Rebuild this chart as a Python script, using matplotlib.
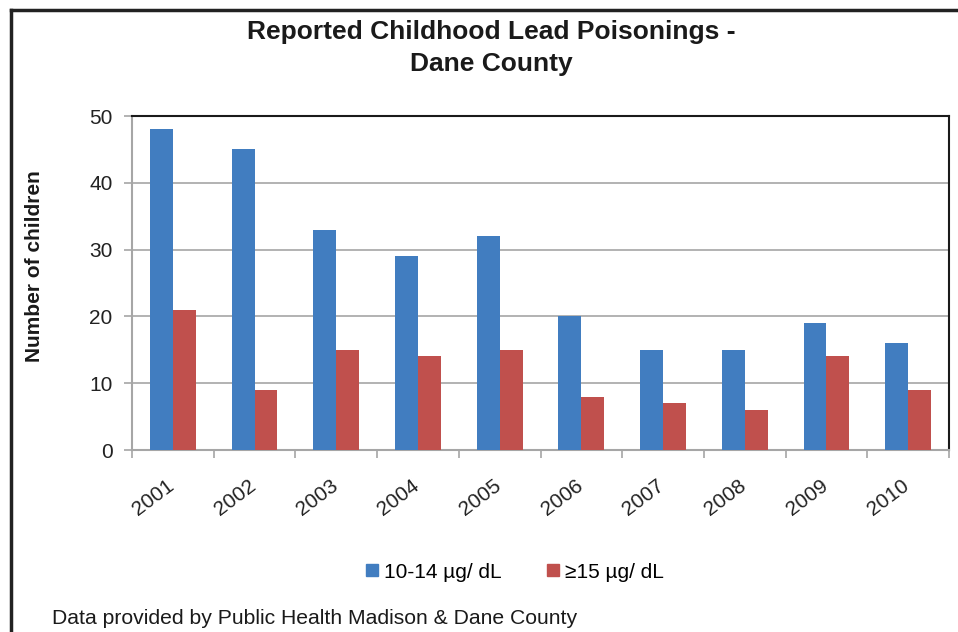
import numpy as np
import matplotlib.pyplot as plt
from matplotlib.patches import Patch
from matplotlib.lines import Line2D

years = ["2001", "2002", "2003", "2004", "2005", "2006", "2007", "2008", "2009", "2010"]
low_level = [48, 45, 33, 29, 32, 20, 15, 15, 19, 16]     # 10-14 µg/dL
high_level = [21, 9, 15, 14, 15, 8, 7, 6, 14, 9]        # >=15 µg/dL
y_ticks = [0, 10, 20, 30, 40, 50]

blue = "#417DC0"
red = "#C0504D"
grid_gray = "#A6A6A6"

plt.rcParams["font.family"] = ["Liberation Sans", "DejaVu Sans"]

fig = plt.figure(figsize=(9.58, 6.32), dpi=100)
ax = fig.add_axes([132 / 958, 1 - 450 / 632, (949 - 132) / 958, (450 - 116) / 632])

x = np.arange(len(years))
w = 0.28
ax.bar(x - w / 2, low_level, width=w, color=blue, zorder=3)
ax.bar(x + w / 2, high_level, width=w, color=red, zorder=3)

ax.set_xlim(-0.5, len(years) - 0.5)
ax.set_ylim(0, 50)
ax.set_yticks(y_ticks)
ax.tick_params(axis="y", labelsize=15, colors=grid_gray, labelcolor="#222222",
               length=6, width=1.2, pad=8)
ax.yaxis.grid(True, color=grid_gray, linewidth=1.2, zorder=0)

# category ticks sit between the groups, labels at the centres
ax.set_xticks(np.arange(len(years) + 1) - 0.5)
ax.set_xticks(x + 0.06, minor=True)
ax.set_xticklabels([])
ax.set_xticklabels(years, minor=True, rotation=37, ha="right", va="top",
                   fontsize=15, color="#222222")
ax.tick_params(axis="x", which="major", colors=grid_gray, length=6, width=1.2)
ax.tick_params(axis="x", which="minor", length=0, pad=19)

for side in ["left", "bottom"]:
    ax.spines[side].set_color(grid_gray)
    ax.spines[side].set_linewidth(1.5)
for side in ["top", "right"]:
    ax.spines[side].set_color("#1a1a1a")
    ax.spines[side].set_linewidth(1.5)

fig.text(491 / 958, 1 - 48 / 632, "Reported Childhood Lead Poisonings -\nDane County",
         ha="center", va="center", fontsize=19, fontweight="bold",
         color="#1a1a1a", linespacing=1.4)
fig.text(35 / 958, 1 - 266 / 632, "Number of children", rotation=90,
         ha="center", va="center", fontsize=15, fontweight="bold", color="#1a1a1a")

handles = [Patch(color=blue, label="10-14 µg/ dL"),
           Patch(color=red, label="≥15 µg/ dL")]
fig.legend(handles=handles, loc="center", bbox_to_anchor=(515 / 958, 1 - 572 / 632),
           ncol=2, frameon=False, fontsize=15, handlelength=0.55, handleheight=0.55,
           handletextpad=0.3, columnspacing=2.2)

fig.text(52 / 958, 1 - 618 / 632, "Data provided by Public Health Madison & Dane County",
         ha="left", va="center", fontsize=15.2, color="#1a1a1a")

# outer chart frame (top and left edges)
fig.add_artist(Line2D([11 / 958, 1.0], [1 - 10 / 632, 1 - 10 / 632],
                      transform=fig.transFigure, color="#222222", linewidth=2.5))
fig.add_artist(Line2D([11 / 958, 11 / 958], [1 - 10 / 632, 0.0],
                      transform=fig.transFigure, color="#222222", linewidth=2.5))

fig.savefig("out.png", dpi=100)
